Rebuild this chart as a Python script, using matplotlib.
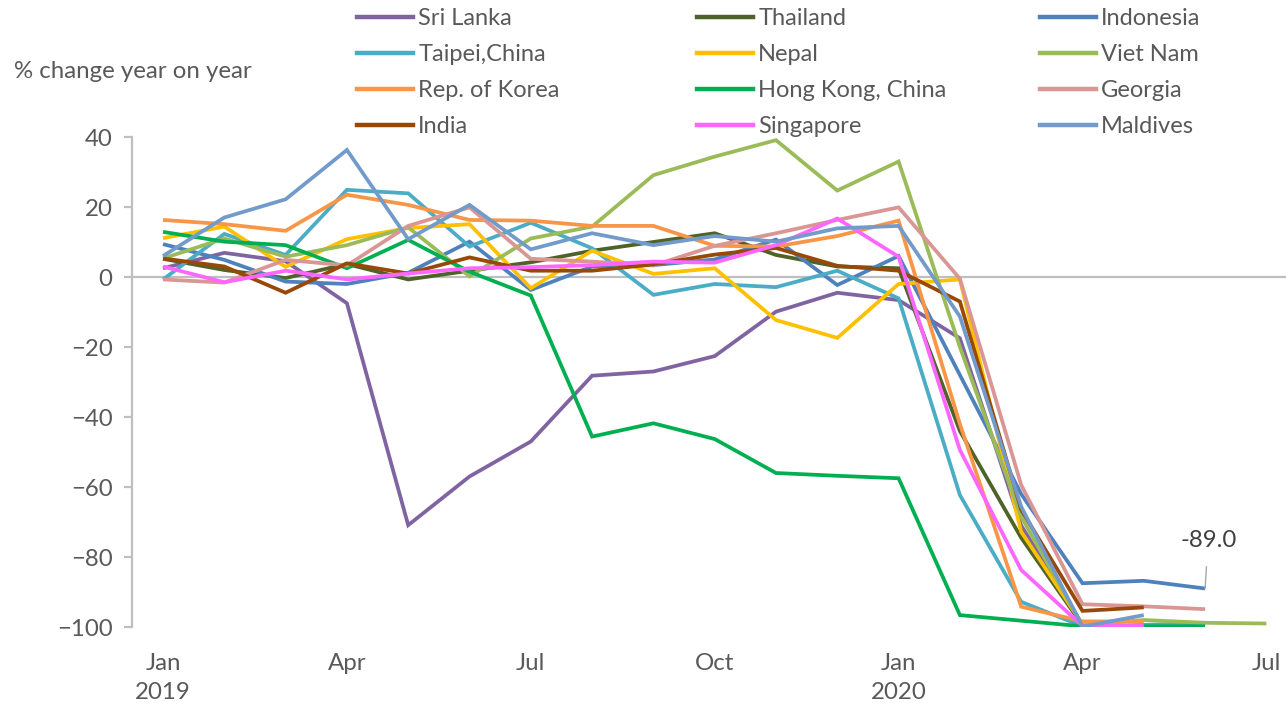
import matplotlib
matplotlib.use("Agg")
import matplotlib.pyplot as plt
from matplotlib.lines import Line2D

plt.rcParams['font.family'] = ['Lato', 'DejaVu Sans']

# months since Jan 2019
tick_pos = [0, 3, 6, 9, 12, 15, 18]
tick_labels = ["Jan\n2019", "Apr", "Jul", "Oct", "Jan\n2020", "Apr", "Jul"]

sri_lanka = [2.5, 6.9, 4.5, -7.5, -70.9, -57.0, -47.0, -28.2, -27.0, -22.6, -9.9, -4.5, -6.6, -17.5, -71.0, -99.5]
thailand = [5.2, 2.0, -0.3, 3.7, -0.7, 1.8, 4.2, 7.5, 10.0, 12.5, 6.3, 3.0, 2.5, -44.0, -74.5, -99.5]
indonesia = [9.4, 4.9, -1.3, -2.0, 1.2, 10.1, -3.7, 3.0, 3.4, 5.0, 10.7, -2.3, 6.0, -28.0, -62.0, -87.5, -86.8, -89.0]
taipei = [-0.7, 12.3, 6.3, 24.9, 23.9, 8.7, 15.5, 8.2, -5.1, -2.0, -2.9, 1.8, -6.1, -62.3, -92.8, -99.8, -99.4, -98.8]
nepal = [11.1, 14.4, 2.9, 10.8, 14.0, 15.1, -3.2, 7.5, 0.9, 2.5, -12.3, -17.4, -2.0, -0.7, -72.8, -99.2]
viet_nam = [5.3, 11.0, 5.8, 9.1, 14.2, 0.2, 11.0, 14.4, 29.1, 34.4, 39.1, 24.7, 33.0, -20.0, -68.5, -99.5, -98.0, -98.8, -99.0]
korea = [16.3, 15.1, 13.2, 23.5, 20.6, 16.3, 16.1, 14.6, 14.6, 8.9, 8.7, 11.7, 16.1, -42.0, -94.2, -98.4, -98.4]
hong_kong = [12.9, 10.1, 9.1, 2.5, 10.6, 1.5, -5.3, -45.6, -41.8, -46.3, -56.0, -56.8, -57.5, -96.6, -98.2, -99.8, -99.8, -99.8]
georgia = [-0.7, -1.6, 4.9, 3.3, 14.6, 19.9, 5.2, 4.4, 3.3, 8.9, 12.5, 16.3, 19.9, -0.5, -59.4, -93.5, -94.1, -94.9]
india = [5.3, 3.0, -4.5, 3.9, 1.0, 5.6, 1.8, 1.8, 3.6, 6.4, 8.3, 3.2, 1.8, -7.0, -66.5, -95.4, -94.4]
singapore = [3.0, -1.5, 1.8, -0.7, 1.0, 2.5, 2.8, 3.4, 4.4, 4.1, 9.1, 16.7, 5.8, -49.4, -83.7, -99.7, -99.7]
maldives = [6.0, 17.0, 22.2, 36.3, 10.8, 20.6, 7.9, 12.5, 9.1, 11.7, 10.1, 13.9, 14.6, -11.3, -65.6, -99.9, -96.6]

series = [
    ("Sri Lanka", sri_lanka, "#8064A2"),
    ("Thailand", thailand, "#4F6228"),
    ("Indonesia", indonesia, "#4F81BD"),
    ("Taipei,China", taipei, "#4BACC6"),
    ("Nepal", nepal, "#FFC000"),
    ("Viet Nam", viet_nam, "#9BBB59"),
    ("Rep. of Korea", korea, "#F79646"),
    ("Hong Kong, China", hong_kong, "#00B050"),
    ("Georgia", georgia, "#D99694"),
    ("India", india, "#984807"),
    ("Singapore", singapore, "#FF66FF"),
    ("Maldives", maldives, "#729ACA"),
]

text_color = "#595959"
grid_color = "#BFBFBF"
fs = 17.3

fig = plt.figure(figsize=(12.86, 7.06), dpi=100)
ax = fig.add_axes([132/1286, 1 - 627/706, 1 - 132/1286, 490/706])

ax.axhline(0, color=grid_color, lw=1.6, zorder=1)

handles = {}
for i, (name, vals, col) in enumerate(series):
    (ln,) = ax.plot(range(len(vals)), vals, color=col, lw=2.7, zorder=2 + i,
                    solid_joinstyle='miter', solid_capstyle='butt')
    handles[name] = ln

ax.set_xlim(-0.506, 18.32)
ax.set_ylim(-100, 40)
ax.set_yticks(range(-100, 41, 20))
ax.set_xticks(tick_pos)
ax.set_xticklabels(tick_labels, linespacing=1.44)

for s in ["top", "right", "bottom"]:
    ax.spines[s].set_visible(False)
ax.spines["left"].set_color(grid_color)
ax.spines["left"].set_linewidth(1.6)

ax.tick_params(axis="y", length=6, width=1.6, color=grid_color, labelsize=fs,
               labelcolor=text_color, pad=8)
ax.tick_params(axis="x", length=0, labelsize=fs, labelcolor=text_color, pad=19)

# annotation for Indonesia last value
last_x = len(indonesia) - 1
ax.annotate(f"{indonesia[-1]:.1f}", xy=(last_x, indonesia[-1]), xytext=(last_x + 0.05, -75.4),
            ha="center", va="center", fontsize=fs, color="#404040",
            arrowprops=dict(arrowstyle="-", color="#A6A6A6", lw=1.0, shrinkA=9, shrinkB=0),
            zorder=20)

fig.text(14/1286, 1 - 72/706, "% change year on year", fontsize=fs, color=text_color,
         ha="left", va="center")

# legend: three columns
columns = [
    ["Sri Lanka", "Taipei,China", "Rep. of Korea", "India"],
    ["Thailand", "Nepal", "Hong Kong, China", "Singapore"],
    ["Indonesia", "Viet Nam", "Georgia", "Maldives"],
]
col_x = [357, 697, 1040]
for names, cx in zip(columns, col_x):
    hs = [Line2D([], [], color=handles[n].get_color(), lw=3.2) for n in names]
    leg = fig.legend(hs, names, loc="upper left", bbox_to_anchor=(cx/1286, 1 - 8/706),
                     frameon=False, fontsize=17, handlelength=2.37, handletextpad=0.22,
                     labelspacing=0.635, borderaxespad=0, borderpad=0)
    for t in leg.get_texts():
        t.set_color(text_color)

fig.savefig("out.png", dpi=100)
